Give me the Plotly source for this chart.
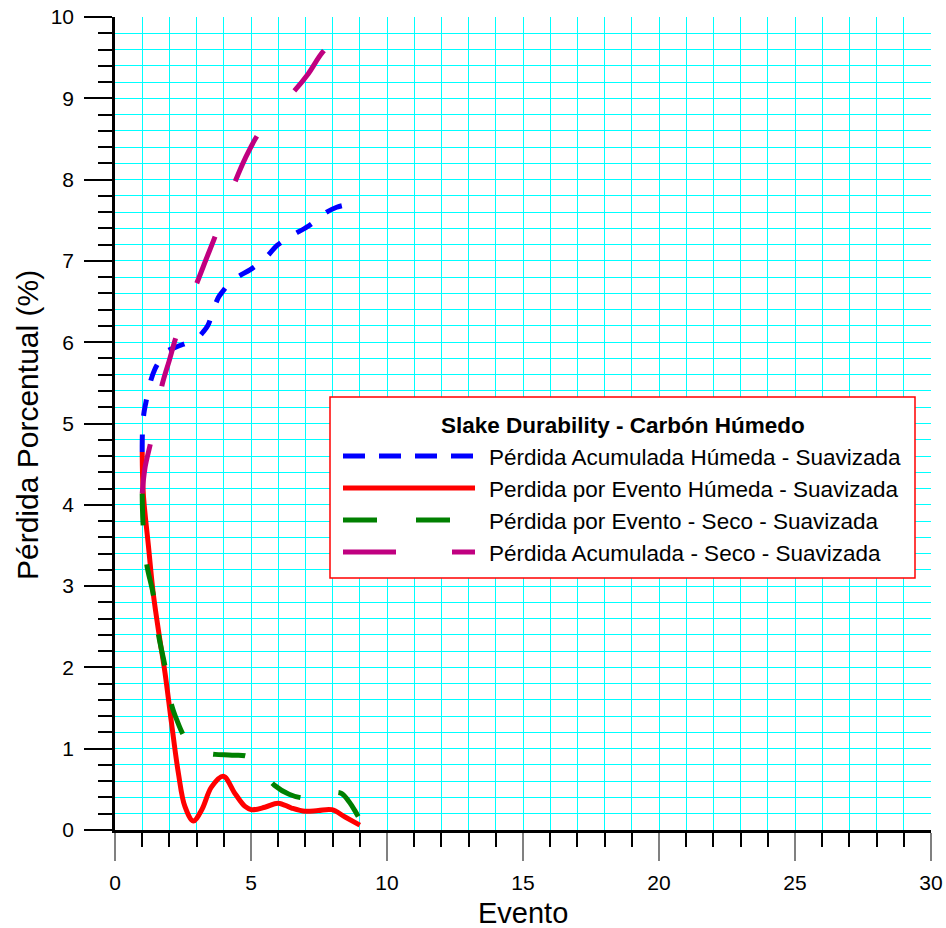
import plotly.graph_objects as go

# ---------------- data ----------------
x_acum_humeda = [1.0, 1.01, 1.06, 1.13, 1.29, 1.47, 1.7, 1.88, 2.1, 2.39, 2.7, 3.05, 3.25, 3.42, 3.6, 3.8, 3.95, 4.2,
                 4.5, 4.96, 5.3, 5.6, 5.96, 6.3, 6.6, 7.07, 7.4, 7.73, 8.15, 8.5, 9.0]
y_acum_humeda = [4.65, 4.9, 5.12, 5.25, 5.5, 5.67, 5.8, 5.88, 5.92, 5.96, 6.0, 6.06, 6.13, 6.21, 6.38, 6.55, 6.62, 6.72,
                 6.8, 6.89, 6.97, 7.06, 7.19, 7.27, 7.33, 7.42, 7.5, 7.59, 7.66, 7.69, 7.71]

x_evento_humeda = [1.0, 1.04, 1.23, 1.41, 1.65, 1.84, 2.08, 2.33, 2.57, 2.88, 3.19, 3.55, 3.98, 4.41, 4.78, 5.02,
                   5.51, 6.0, 6.49, 6.99, 7.47, 7.97, 8.46, 9.0]
y_evento_humeda = [4.65, 4.14, 3.49, 2.9, 2.34, 1.93, 1.31, 0.70, 0.29, 0.11, 0.25, 0.53, 0.66, 0.45, 0.29, 0.25,
                   0.28, 0.33, 0.27, 0.23, 0.24, 0.25, 0.16, 0.06]

x_evento_seco = [1.0, 1.03, 1.16, 1.41, 1.59, 1.84, 2.08, 2.3, 2.51, 2.75, 3.0, 3.3, 3.68, 4.3, 4.9, 5.4, 5.86,
                 6.4, 6.99, 7.5, 8.0, 8.33, 8.6, 8.85, 9.02]
y_evento_seco = [4.14, 3.77, 3.28, 2.89, 2.42, 2.01, 1.54, 1.33, 1.17, 1.05, 0.98, 0.95, 0.93, 0.92, 0.90, 0.72, 0.55,
                 0.44, 0.39, 0.40, 0.46, 0.45, 0.35, 0.22, 0.12]

x_acum_seco = [1.0, 1.1, 1.32, 1.72, 2.0, 2.24, 2.6, 3.0, 3.35, 3.68, 4.05, 4.41, 4.8, 5.21, 5.9, 6.56, 7.1, 7.64,
               8.3, 9.0]
y_acum_seco = [4.14, 4.45, 4.78, 5.46, 5.78, 6.06, 6.4, 6.72, 7.02, 7.3, 7.65, 7.97, 8.27, 8.53, 8.85, 9.08, 9.3, 9.57,
               9.78, 9.9]

series_names = [
    "Pérdida Acumulada Húmeda - Suavizada",
    "Perdida por Evento Húmeda - Suavizada",
    "Pérdida por Evento - Seco - Suavizada",
    "Pérdida Acumulada - Seco - Suavizada",
]
series_colors = ["#0000FF", "#FF0000", "#008000", "rgb(192,0,128)"]
series_dash = ["17px,19px", "solid", "32px,39px", "50px,59px"]
legend_dash = ["22px,14px", "solid", "34px,39px", "53px,56px"]
legend_title = "Slake Durability - Carbón Húmedo"
x_title = "Evento"
y_title = "Pérdida Porcentual (%)"

FONT = "Liberation Sans, Arial, sans-serif"

xs = [x_acum_humeda, x_evento_humeda, x_evento_seco, x_acum_seco]
ys = [y_acum_humeda, y_evento_humeda, y_evento_seco, y_acum_seco]

fig = go.Figure()
for x, y, n, c, d in zip(xs, ys, series_names, series_colors, series_dash):
    fig.add_trace(go.Scatter(x=x, y=y, mode="lines", name=n,
                             line=dict(color=c, width=5, dash=d, shape="spline", smoothing=1.0),
                             showlegend=False, hoverinfo="skip"))

# ---------------- layout ----------------
L, R, T, B = 115, 15, 17, 98
W, H = 946, 928
pw, ph = W - L - R, H - T - B


def px_x(p):
    return (p - L) / pw


def px_y(p):
    return (H - B - p) / ph


grid = "#00FFFF"
gw = 1.3
fig.update_layout(
    template="none",
    width=W, height=H,
    margin=dict(l=L, r=R, t=T, b=B, pad=0, autoexpand=False),
    paper_bgcolor="white", plot_bgcolor="white",
    font=dict(family=FONT, color="black"),
    showlegend=False,
    xaxis=dict(range=[0, 30], tick0=0, dtick=5, showgrid=True, gridcolor=grid, gridwidth=gw,
               ticks="outside", ticklen=28, tickwidth=2, tickcolor="gray", automargin=False,
               showline=True, linecolor="black", linewidth=2.5, zeroline=False, ticklabelstandoff=4,
               tickfont=dict(size=21, family=FONT, color="black"),
               minor=dict(dtick=1, tick0=0, ticks="outside", ticklen=14, tickwidth=2, tickcolor="black",
                          showgrid=True, gridcolor=grid, gridwidth=gw)),
    yaxis=dict(range=[0, 10], tick0=0, dtick=1, showgrid=True, gridcolor=grid, gridwidth=gw,
               ticks="outside", ticklen=28, tickwidth=2, tickcolor="black", automargin=False,
               showline=True, linecolor="black", linewidth=2.5, zeroline=False, ticklabelstandoff=6,
               tickfont=dict(size=21, family=FONT, color="black"),
               minor=dict(dtick=0.2, tick0=0, ticks="outside", ticklen=14, tickwidth=2, tickcolor="black",
                          showgrid=True, gridcolor=grid, gridwidth=gw)),
)

# axis titles
fig.add_annotation(text=x_title, xref="paper", yref="paper", x=0.5, y=px_y(913),
                   xanchor="center", yanchor="middle", showarrow=False,
                   font=dict(size=29, family=FONT, color="black"))
fig.add_annotation(text=y_title, xref="paper", yref="paper", x=px_x(27), y=px_y(425), textangle=-90,
                   xanchor="center", yanchor="middle", showarrow=False,
                   font=dict(size=30, family=FONT, color="black"))

# custom legend box
fig.add_shape(type="rect", xref="paper", yref="paper",
              x0=px_x(330), x1=px_x(915), y0=px_y(578), y1=px_y(397),
              line=dict(color="#FF0000", width=1.5), fillcolor="white", layer="above")
fig.add_annotation(text="<b>" + legend_title + "</b>", xref="paper", yref="paper",
                   x=px_x(622.5), y=px_y(425), xanchor="center", yanchor="middle", showarrow=False,
                   font=dict(size=22.5, family=FONT, color="black"))
row_y = [456, 488, 520, 552]
for n, c, d, ry in zip(series_names, series_colors, legend_dash, row_y):
    fig.add_shape(type="line", xref="paper", yref="paper",
                  x0=px_x(343), x1=px_x(475), y0=px_y(ry), y1=px_y(ry),
                  line=dict(color=c, width=5, dash=d), layer="above")
    fig.add_annotation(text=n, xref="paper", yref="paper", x=px_x(487), y=px_y(ry + 1),
                       xanchor="left", yanchor="middle", showarrow=False,
                       font=dict(size=22.5, family=FONT, color="black"))

fig.write_html("out.html")
